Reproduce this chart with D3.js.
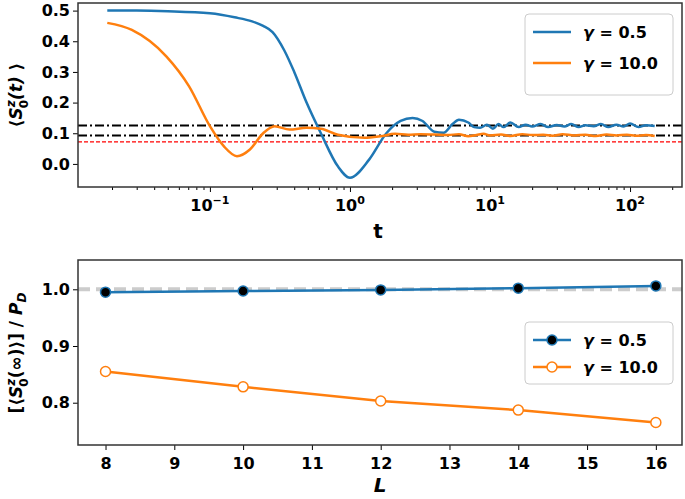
<!DOCTYPE html><html><head><meta charset="utf-8">
<script src="https://cdn.jsdelivr.net/npm/d3@7"></script>
<style>body{margin:0;background:#fff}text{font-family:"DejaVu Sans";font-weight:bold}</style></head><body>
<svg id="c" width="685" height="499"></svg>
<script>
const blueT=[0.0185,0.03,0.05,0.1,0.15,0.2,0.24,0.28,0.34,0.4,0.49,0.62,0.82,1.0,1.37,1.82,2.3,2.8,3.3,4.0,4.66,5.4,6.0,7.0,7.7,8.5,9.5,10.5,11.5,12.5,14,16,18,20,23,26,30,34,38,43,48,55,62,70,80,90,100,115,130,150];
const blueV=[0.5,0.5,0.498,0.491,0.478,0.465,0.45,0.43,0.37,0.30,0.20,0.10,-0.008,-0.045,0.014,0.10,0.14,0.15,0.14,0.105,0.102,0.13,0.144,0.135,0.12,0.118,0.128,0.115,0.13,0.12,0.135,0.12,0.128,0.122,0.13,0.12,0.127,0.122,0.13,0.12,0.126,0.123,0.13,0.12,0.128,0.122,0.132,0.12,0.126,0.124];
const orangeT=[0.0185,0.0277,0.049,0.071,0.1,0.126,0.156,0.193,0.24,0.29,0.37,0.49,0.62,0.82,1.27,1.65,2.1,2.6,3.2,4,5,6,7,8,9,10,12,14,17,20,24,28,33,40,48,57,68,80,95,110,130,150];
const orangeV=[0.46,0.437,0.35,0.253,0.123,0.057,0.025,0.047,0.10,0.123,0.112,0.118,0.115,0.095,0.085,0.09,0.098,0.095,0.097,0.096,0.094,0.097,0.09,0.094,0.098,0.093,0.096,0.091,0.097,0.094,0.095,0.092,0.097,0.093,0.095,0.091,0.096,0.093,0.095,0.092,0.094,0.091];
const hlinesDash=[0.125,0.093];
const hlineRed=0.072;
const L=[8,10,12,14,16];
const ratioBlue=[0.995,0.997,0.999,1.002,1.006];
const ratioOrange=[0.855,0.828,0.803,0.787,0.765];
const xTicksTop=[0.1,1,10,100];
const yTicksTop=[0,0.1,0.2,0.3,0.4,0.5];
const xTicksBot=[8,9,10,11,12,13,14,15,16];
const yTicksBot=[0.8,0.9,1.0];
const BLUE="#1f77b4",ORANGE="#ff7f0e";
const svg=d3.select("#c");
const L0=78,R0=682;
// top
const x1=d3.scaleLog().domain([0.01143,235]).range([L0,R0]);
const y1=d3.scaleLinear().domain([-0.0753,0.5248]).range([187,3]);
const g1=svg.append("g");
g1.append("g").attr("transform","translate(0,187)").call(d3.axisBottom(x1).tickValues(xTicksTop).tickFormat("").tickSizeOuter(0).tickSize(5));
const minors=[];for(let e=-2;e<=2;e++)for(let k=2;k<=9;k++){const v=k*Math.pow(10,e);if(v>=0.01143&&v<=235)minors.push(v);}
g1.append("g").attr("transform","translate(0,187)").call(d3.axisBottom(x1).tickValues(minors).tickFormat("").tickSize(3).tickSizeOuter(0));
xTicksTop.forEach(v=>{const e=Math.round(Math.log10(v));const t=g1.append("text").attr("x",x1(v)).attr("y",211).attr("text-anchor","middle").attr("font-size",16);t.append("tspan").text("10");t.append("tspan").attr("dy",-7).attr("font-size",11).text(e<0?"−"+(-e):e);});
g1.append("g").attr("transform",`translate(${L0},0)`).call(d3.axisLeft(y1).tickValues(yTicksTop).tickFormat(d3.format(".1f")).tickSize(5).tickSizeOuter(0)).selectAll("text").attr("font-size",16).attr("font-family","DejaVu Sans").attr("font-weight","bold");
g1.selectAll(".domain").remove();
hlinesDash.forEach(v=>g1.append("line").attr("x1",L0).attr("x2",R0).attr("y1",y1(v)).attr("y2",y1(v)).attr("stroke","#000").attr("stroke-width",2).attr("stroke-dasharray","9,3,2,3"));
g1.append("line").attr("x1",L0).attr("x2",R0).attr("y1",y1(hlineRed)).attr("y2",y1(hlineRed)).attr("stroke","red").attr("stroke-width",1.2).attr("stroke-dasharray","4,2");
const ln1=d3.line().x(d=>x1(d[0])).y(d=>y1(d[1])).curve(d3.curveMonotoneX);
g1.append("path").attr("d",ln1(blueT.map((t,i)=>[t,blueV[i]]))).attr("fill","none").attr("stroke",BLUE).attr("stroke-width",2.5);
g1.append("path").attr("d",ln1(orangeT.map((t,i)=>[t,orangeV[i]]))).attr("fill","none").attr("stroke",ORANGE).attr("stroke-width",2.5);
g1.append("rect").attr("x",L0).attr("y",3).attr("width",R0-L0).attr("height",184).attr("fill","none").attr("stroke","#333").attr("stroke-width",1.5);
svg.append("text").attr("x",378).attr("y",238).attr("text-anchor","middle").attr("font-size",20).text("t");
{const t=svg.append("text").attr("transform","translate(22,95) rotate(-90)").attr("text-anchor","middle").attr("font-size",17);
t.append("tspan").text("⟨");t.append("tspan").attr("font-style","italic").text("S");t.append("tspan").attr("dy",-7).attr("font-size",12).attr("font-style","italic").text("z");t.append("tspan").attr("dx",-8).attr("dy",13).attr("font-size",12).text("0");t.append("tspan").attr("dy",-6).attr("font-style","italic").text("(t)");t.append("tspan").text(" ⟩");}
function legend(x,y,w,h,items,markers){svg.append("rect").attr("x",x).attr("y",y).attr("width",w).attr("height",h).attr("rx",4).attr("fill","#fff").attr("stroke","#ccc");
items.forEach((it,i)=>{const yy=y+18+i*27*(h>70?1.15:1);svg.append("line").attr("x1",x+8).attr("x2",x+46).attr("y1",yy).attr("y2",yy).attr("stroke",it.c).attr("stroke-width",2.5);
if(markers)svg.append("circle").attr("cx",x+27).attr("cy",yy).attr("r",5).attr("fill",it.f).attr("stroke",it.c).attr("stroke-width",1.5);
const t=svg.append("text").attr("x",x+58).attr("y",yy+6).attr("font-size",16);t.append("tspan").attr("font-style","italic").text("γ");t.append("tspan").text(" = "+it.l);});}
legend(525,14,148,81,[{c:BLUE,l:"0.5"},{c:ORANGE,l:"10.0"}],false);
// bottom
const x2=d3.scaleLinear().domain([7.6,16.38]).range([L0,R0]);
const y2=d3.scaleLinear().domain([0.7254,1.0517]).range([445,260]);
const g2=svg.append("g");
g2.append("g").attr("transform","translate(0,445)").call(d3.axisBottom(x2).tickValues(xTicksBot).tickSize(5).tickSizeOuter(0)).selectAll("text").attr("font-size",16).attr("font-family","DejaVu Sans").attr("font-weight","bold").attr("dy","1em");
g2.append("g").attr("transform",`translate(${L0},0)`).call(d3.axisLeft(y2).tickValues(yTicksBot).tickFormat(d3.format(".1f")).tickSize(5).tickSizeOuter(0)).selectAll("text").attr("font-size",16).attr("font-family","DejaVu Sans").attr("font-weight","bold");
g2.selectAll(".domain").remove();
g2.append("line").attr("x1",L0).attr("x2",R0).attr("y1",y2(1)).attr("y2",y2(1)).attr("stroke","#ccc").attr("stroke-width",4).attr("stroke-dasharray","12,6");
const ln2=d3.line().x(d=>x2(d[0])).y(d=>y2(d[1]));
g2.append("path").attr("d",ln2(L.map((l,i)=>[l,ratioBlue[i]]))).attr("fill","none").attr("stroke",BLUE).attr("stroke-width",2.5);
g2.append("path").attr("d",ln2(L.map((l,i)=>[l,ratioOrange[i]]))).attr("fill","none").attr("stroke",ORANGE).attr("stroke-width",2.5);
g2.selectAll(".b").data(L).enter().append("circle").attr("cx",d=>x2(d)).attr("cy",(d,i)=>y2(ratioBlue[i])).attr("r",5).attr("fill","#000").attr("stroke",BLUE).attr("stroke-width",1.5);
g2.selectAll(".o").data(L).enter().append("circle").attr("cx",d=>x2(d)).attr("cy",(d,i)=>y2(ratioOrange[i])).attr("r",5).attr("fill","#fff").attr("stroke",ORANGE).attr("stroke-width",1.5);
g2.append("rect").attr("x",L0).attr("y",260).attr("width",R0-L0).attr("height",185).attr("fill","none").attr("stroke","#333").attr("stroke-width",1.5);
svg.append("text").attr("x",380).attr("y",492).attr("text-anchor","middle").attr("font-size",20).attr("font-style","italic").text("L");
{const t=svg.append("text").attr("transform","translate(22,353) rotate(-90)").attr("text-anchor","middle").attr("font-size",17);
t.append("tspan").text("[⟨");t.append("tspan").attr("font-style","italic").text("S");t.append("tspan").attr("dy",-7).attr("font-size",12).attr("font-style","italic").text("z");t.append("tspan").attr("dx",-8).attr("dy",13).attr("font-size",12).text("0");t.append("tspan").attr("dy",-6).text("(∞)⟩] / ");t.append("tspan").attr("font-style","italic").text("P");t.append("tspan").attr("dy",4).attr("font-size",12).attr("font-style","italic").text("D");}
legend(525,322,148,62,[{c:BLUE,f:"#000",l:"0.5"},{c:ORANGE,f:"#fff",l:"10.0"}],true);
</script></body></html>
